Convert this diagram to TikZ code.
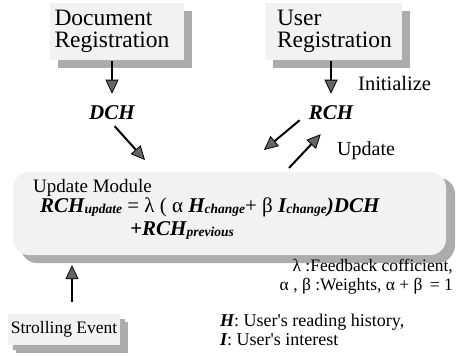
\documentclass[tikz,border=0pt]{standalone}
\usepackage{fontspec}
\setmainfont{Liberation Serif}
\usetikzlibrary{arrows.meta,shadows}

\newcommand{\bfit}{\bfseries\itshape}
\newcommand{\lowsub}[1]{\raisebox{-1.5pt}{\fontsize{13.5}{13.5}\selectfont\bfseries\itshape #1}}

\begin{document}
\begin{tikzpicture}[x=1pt,y=-1pt,
  regbox/.style={fill=gray!10,inner sep=0pt,align=left,
    drop shadow={shadow xshift=8pt,shadow yshift=-8pt,fill=gray!65,opacity=1}},
  hist/.style={font=\fontsize{21}{21}\selectfont\bfit,inner sep=3pt},
  lbl/.style={inner sep=0pt},
  arr/.style={line width=2pt,-{Triangle[width=13pt,length=14pt,fill=black!60,line width=0.8pt]}}]
  \useasboundingbox (0,0) rectangle (458,356);

  % registration boxes
  \node[regbox,minimum width=134pt,minimum height=57pt,text width=125pt,
    font=\fontsize{23.5}{22.5}\selectfont] (docreg) at (117,31.5) {Document\\Registration};
  \node[regbox,minimum width=137pt,minimum height=57pt,text width=113pt,
    font=\fontsize{23.5}{22.5}\selectfont] (userreg) at (333.5,31.5) {User\\Registration};

  % update module and strolling event
  \node[regbox,rounded corners=16pt,minimum width=433pt,minimum height=83pt,
    drop shadow={shadow xshift=9pt,shadow yshift=-6pt,fill=gray!65,opacity=1}] (update) at (229.5,213.5) {};
  \node[regbox,minimum width=112pt,minimum height=31pt,
    font=\fontsize{17.5}{17.5}\selectfont,
    drop shadow={shadow xshift=5pt,shadow yshift=-5pt,fill=gray!65,opacity=1}] (stroll) at (64,329.5) {Strolling Event};

  \node[hist] (dch) at (112,113) {DCH};
  \node[hist] (rch) at (331,113) {RCH};
  \node[lbl,anchor=base west,font=\fontsize{20.5}{20.5}\selectfont] (initlbl) at (358,90) {Initialize};
  \node[lbl,anchor=base west,font=\fontsize{20}{20}\selectfont] (updlbl) at (337,155) {Update};

  % text in the module
  \node[lbl,anchor=base west,font=\fontsize{19}{19}\selectfont] (umtitle) at (33,192) {Update Module};
  \node[lbl,anchor=base west,font=\fontsize{21}{21}\selectfont] (formA) at (40,212)
    {{\bfit RCH}\lowsub{update} = λ ( α {\bfit H}\lowsub{change}+ β {\bfit I}\lowsub{change}{\bfit )DCH}};
  \node[lbl,anchor=base west,font=\fontsize{21}{21}\selectfont] (formB) at (130,235)
    {{\bfit +RCH}\lowsub{previous}};

  % legend
  \node[lbl,anchor=base east,font=\fontsize{17.5}{17.5}\selectfont] (legL) at (453,271) {λ :Feedback cofficient,};
  \node[lbl,anchor=base east,font=\fontsize{17.5}{17.5}\selectfont] (legW) at (453,290) {α , β :Weights, α + β \,= 1};
  \node[lbl,anchor=base west,font=\fontsize{18}{18}\selectfont] (legH) at (220,326) {{\bfit H}: User\textquotesingle s reading history,};
  \node[lbl,anchor=base west,font=\fontsize{18}{18}\selectfont] (legI) at (220,345) {{\bfit I}: User\textquotesingle s interest};

  % connectors
  \coordinate (dchend) at (145,160);
  \coordinate (rchend) at (264,150);
  \coordinate (updstart) at (289,168);
  \coordinate (strollx) at (72,0);
  \draw[arr,shorten <=1pt,shorten >=9pt] (docreg.south -| dch) -- (dch);
  \draw[arr,shorten <=1pt,shorten >=9pt] (userreg.south -| rch) -- (rch);
  \draw[arr,shorten <=4pt] (dch.south) -- (dchend);
  \draw[arr] ([xshift=-6pt,yshift=3pt]rch.south west) -- (rchend);
  \draw[arr,shorten >=15pt] (updstart) -- (rch.south);
  \draw[arr,shorten <=12pt,shorten >=10pt] (stroll.north -| strollx) -- (update.south -| strollx);
\end{tikzpicture}
\end{document}
